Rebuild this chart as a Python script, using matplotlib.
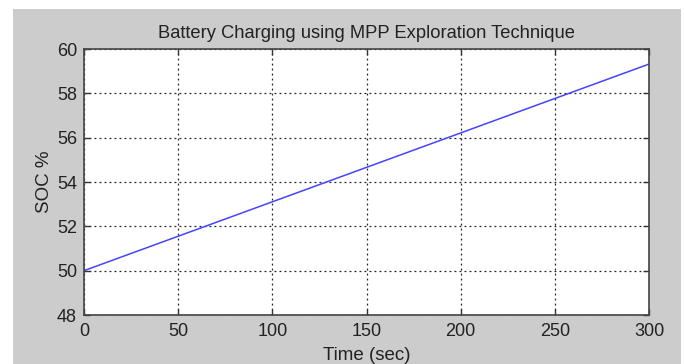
import matplotlib
matplotlib.use("Agg")
import matplotlib.pyplot as plt
from matplotlib.patches import Rectangle

# Simulated state of charge during MPP exploration charging
time_sec = [0, 300]
soc_pct = [50.0, 59.32]

x_ticks = [0, 50, 100, 150, 200, 250, 300]
y_ticks = [48, 50, 52, 54, 56, 58, 60]

plt.rcParams['font.family'] = ['Liberation Sans', 'DejaVu Sans']

fig = plt.figure(figsize=(6.84, 3.64), dpi=100, facecolor='white')
# grey figure panel
fig.patches.append(Rectangle((13 / 684, 0), (681 - 13) / 684, (364 - 9) / 364,
                             transform=fig.transFigure, facecolor='#cccccc',
                             edgecolor='none', zorder=-10))

ax = fig.add_axes([84 / 684, (364 - 315) / 364, (649 - 84) / 684, (315 - 49) / 364])
ax.set_zorder(1)
ax.set_facecolor('white')
ax.plot(time_sec, soc_pct, color='#4444ff', linewidth=1.1)

ax.set_xlim(0, 300)
ax.set_ylim(48, 60)
ax.set_xticks(x_ticks)
ax.set_yticks(y_ticks)
ax.set_xticklabels([str(v) for v in x_ticks])
ax.set_yticklabels([str(v) for v in y_ticks])

ax.grid(True, color='#222222', linestyle=(0, (1.5, 2.5)), linewidth=0.9)
ax.tick_params(direction='in', top=True, right=True, length=4, width=1,
               colors='#333333', labelsize=13, labelcolor='#222222')
ax.tick_params(axis='x', pad=6)
ax.tick_params(axis='y', pad=5)
for s in ax.spines.values():
    s.set_color('#444444')
    s.set_linewidth(1.2)

ax.set_title('Battery Charging using MPP Exploration Technique', fontsize=13.2,
             color='#222222', pad=8)
ax.set_xlabel('Time (sec)', fontsize=13.5, color='#222222', labelpad=5)
ax.set_ylabel('SOC %', fontsize=13.5, color='#222222', labelpad=3)

fig.savefig('out.png', dpi=100, facecolor=fig.get_facecolor())
